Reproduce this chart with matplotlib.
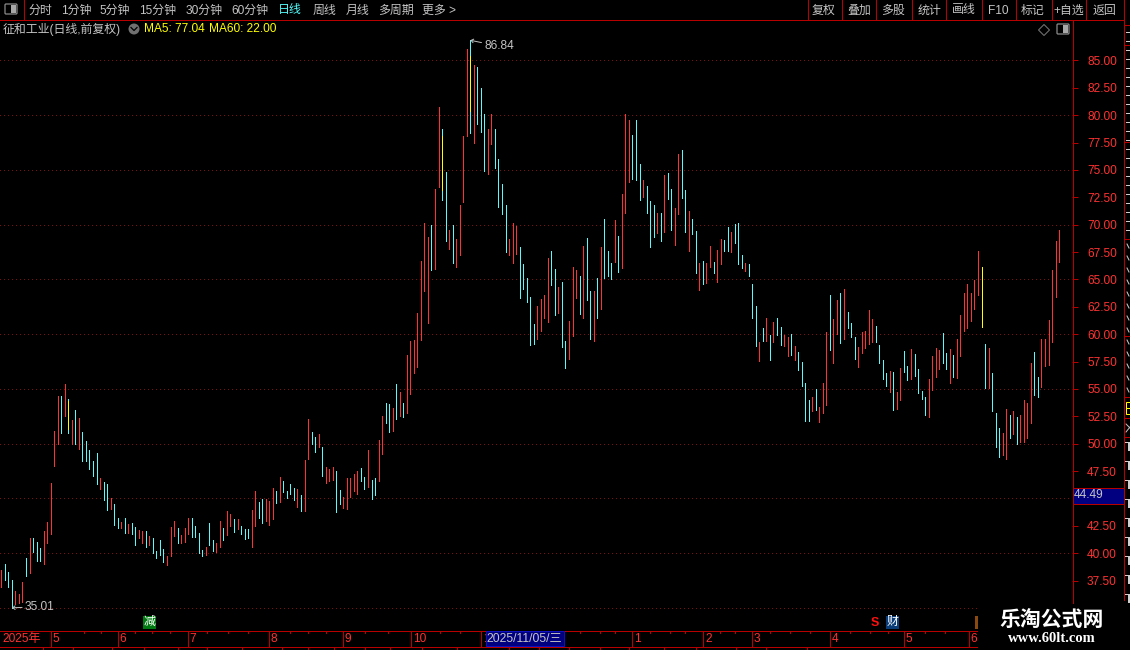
#!/usr/bin/env python3
# -*- coding: utf-8 -*-
import matplotlib
matplotlib.use('Agg')
import matplotlib.pyplot as plt
from matplotlib.patches import Rectangle, FancyBboxPatch, Circle, Polygon

plt.rcParams['font.family'] = ['Liberation Sans', 'Noto Sans CJK SC', 'DejaVu Sans']

#############################################################################
# daily bars
#############################################################################

highs = [
    38.48, 39.03, 38.30, 37.58, 36.58, 36.30, 37.39, 39.58, 41.39, 41.39,
    41.03, 40.48, 42.03, 42.85, 46.39, 51.12, 54.35, 54.35, 55.45, 54.10,
    52.15, 53.05, 52.30, 51.03, 50.21, 49.39, 48.39, 49.12, 46.85, 46.48,
    46.30, 45.03, 44.48, 43.21, 42.85, 43.21, 42.67, 42.76, 42.39, 42.12,
    42.03, 42.03, 41.58, 41.39, 40.21, 41.21, 40.39, 39.76, 42.39, 42.94,
    42.30, 41.67, 42.30, 43.21, 43.21, 42.48, 41.85, 40.30, 40.58, 42.76,
    41.21, 40.94, 42.94, 42.30, 43.85, 43.58, 43.12, 43.12, 42.48, 42.21,
    42.21, 43.94, 45.67, 44.67, 44.94, 44.94, 44.76, 45.94, 45.67,
    46.95, 46.59, 45.67, 46.31, 45.95, 45.85, 45.30, 48.51, 52.26, 51.07,
    50.61, 50.88, 49.70, 47.87, 47.68, 47.87, 47.50, 45.76, 45.12, 46.86,
    46.86, 47.23, 47.50, 47.77, 46.95, 49.42, 46.68, 46.86, 50.34, 52.53,
    53.72, 53.63, 53.26, 55.46, 54.73, 53.72, 58.11, 59.39, 59.48, 61.95,
    66.71, 70.18, 68.90, 70.00, 73.29, 80.70, 78.78, 74.85, 69.54, 70.00,
    68.72, 71.83, 78.14, 86.03, 86.84, 84.57, 84.39, 82.47, 80.15, 78.69,
    80.06, 78.78, 75.95, 73.75, 71.83, 68.72, 70.18, 69.91, 67.99, 66.43,
    65.15, 63.41, 60.95, 62.59, 63.23, 63.60, 66.98, 67.62, 65.98, 64.33,
    64.73, 59.33, 61.16, 66.10, 65.82, 65.27, 68.02, 68.75, 63.90, 63.90,
    65.09, 67.93, 70.49, 67.56, 66.46, 70.40, 68.93, 72.77, 80.09, 79.54,
    78.17, 79.54, 75.52, 74.05, 73.51, 72.13, 71.77, 71.04, 71.04, 74.51,
    74.70, 73.23, 71.49, 76.43, 76.80, 73.14, 71.22, 70.49, 69.39, 66.46,
    66.65, 66.46, 68.02, 66.55, 67.65, 68.66, 68.57, 69.76, 69.30, 70.03,
    70.12, 67.20, 66.46, 66.37, 64.54, 62.53, 59.24, 60.52, 61.43, 59.88,
    61.07, 61.43, 60.61, 59.88, 59.70, 59.97, 58.96, 58.41, 57.50,
    55.51, 53.96, 54.23, 54.96, 53.32, 55.51, 60.17, 63.55, 61.35, 63.09,
    63.73, 64.09, 61.99, 60.99, 59.71, 58.80, 60.17, 60.26, 62.18, 61.35,
    60.72, 58.98, 57.61, 56.42, 56.61, 56.51, 54.69, 56.88, 58.43, 57.06,
    58.61, 58.16, 56.79, 54.78, 54.23, 55.88, 57.98, 58.71, 58.52, 60.08,
    58.25, 58.61, 58.07, 59.53, 61.72, 63.73, 64.55, 63.73, 64.92, 67.56,
    66.10, 59.07, 58.71, 56.42, 52.77, 51.40, 50.94, 53.14, 52.59, 52.95,
    52.40, 52.59, 53.96, 53.68, 57.34, 58.34, 56.06, 59.53, 59.53, 61.26,
    65.83, 68.48, 69.48,
]

lows = [
    36.94, 37.58, 36.94, 35.01, 35.36, 35.45, 35.58, 37.94, 38.21, 40.12,
    39.30, 39.30, 39.03, 40.94, 41.76, 47.94, 49.94, 50.94, 52.48, 50.94,
    49.94, 49.94, 49.48, 48.39, 48.39, 47.67, 47.03, 46.30, 45.85, 44.85,
    43.94, 44.03, 42.58, 42.30, 42.30, 41.85, 41.85, 41.76, 40.76, 41.39,
    40.94, 40.58, 40.76, 40.03, 39.58, 39.85, 39.21, 38.94, 39.76, 41.58,
    40.94, 40.94, 41.03, 41.76, 41.48, 41.48, 40.03, 39.76, 39.85, 40.76,
    40.21, 40.12, 40.58, 41.21, 41.67, 42.48, 41.94, 42.21, 41.76, 41.30,
    41.39, 40.58, 42.48, 43.21, 42.76, 42.94, 42.58, 43.12, 44.58,
    44.66, 45.58, 45.03, 45.40, 44.85, 44.21, 43.84, 43.84, 48.60, 49.97,
    49.24, 49.70, 47.04, 46.40, 46.59, 46.68, 43.75, 44.48, 44.12, 44.02,
    45.12, 45.67, 45.40, 46.59, 45.85, 46.04, 44.94, 45.30, 46.59, 49.05,
    51.89, 51.07, 51.16, 52.26, 52.53, 52.44, 52.80, 54.54, 56.46, 57.01,
    59.48, 63.96, 61.04, 65.88, 65.98, 73.48, 72.29, 68.54, 67.80, 66.52,
    66.16, 67.26, 72.10, 78.14, 78.36, 77.50, 79.15, 78.50, 74.94, 74.66,
    77.41, 75.21, 71.65, 71.00, 67.53, 67.26, 66.52, 67.35, 63.32, 64.15,
    62.96, 59.02, 59.12, 59.57, 60.30, 61.49, 61.13, 64.51, 61.77, 61.95,
    58.87, 56.95, 57.77, 59.79, 63.26, 61.80, 61.43, 63.08, 59.60, 59.33,
    61.52, 62.26, 65.09, 65.27, 65.00, 66.55, 65.64, 66.00, 71.04, 73.87,
    74.15, 74.05, 72.23, 72.50, 71.04, 67.93, 68.84, 69.21, 68.48, 69.30,
    72.32, 69.48, 68.11, 70.95, 72.41, 69.30, 67.56, 69.12, 65.55, 64.00,
    64.54, 64.63, 66.10, 65.55, 64.73, 66.37, 67.56, 67.56, 67.47, 68.29,
    66.37, 66.01, 65.73, 65.27, 61.43, 58.96, 57.59, 59.33, 59.42, 57.68,
    59.24, 59.88, 59.05, 58.96, 58.05, 58.14, 57.68, 56.77, 55.30,
    52.04, 52.04, 52.95, 53.04, 51.95, 52.77, 53.50, 58.52, 57.34, 60.05,
    59.16, 59.53, 60.53, 59.71, 57.70, 56.97, 58.25, 58.71, 59.07, 59.25,
    59.25, 57.34, 55.88, 55.24, 54.69, 53.04, 53.14, 53.96, 56.51, 55.78,
    55.88, 56.15, 54.60, 54.05, 52.59, 52.40, 54.87, 56.06, 56.79, 57.34,
    56.79, 55.51, 56.06, 55.97, 57.98, 60.26, 60.53, 61.17, 62.27, 63.55,
    60.62, 55.05, 55.05, 52.95, 49.67, 48.75, 48.93, 48.57, 50.49, 50.85,
    49.94, 50.12, 50.12, 50.49, 51.86, 54.41, 54.23, 55.14, 57.06, 57.15,
    59.25, 63.36, 66.56,
]

# r = up day, c = down day
kinds = ("rcccrrrcrc" "ccrrrrrcrc" "rcrcccccrc" "crccrcrccr" "rcrccccrrr"
         "crrrccccrc" "crrcrrcrcc" "crrccrrrc"
         "rccccrcrrc" "crcrrrccrr" "rrrccrccrr" "ccrcrcrrrr" "rrrcrrccrc"
         "rrrrcrcccr" "rccccrrrcc" "cccrrrrccr"
         "ccrrrcrccr" "crcccrcrrr" "cccrcccrcr" "ccrrccrccr" "crrcrrccrc"
         "ccrcccrcrc" "rccrrcrcc"
         "ccrcrrrcrr" "crcccrrrrr" "ccccrcrrcc" "rccccrrrrc" "crcrrrrrrr"
         "ccrcccrrcr" "crrrrccrrr" "rrr")

# the yellow stretches on top of some bars
flag_days = [19, 125, 133, 278]
flag_high = [53.85, 78.14, 85.40, 66.10]
flag_low = [51.30, 73.20, 80.37, 60.62]

grid_levels = [85, 80, 75, 70, 65, 60, 55, 50, 45, 40, 35]
# 45 sits behind the current price box
tick_levels = [37.5, 40, 42.5, 47.5, 50, 52.5, 55, 57.5, 60, 62.5, 65, 67.5,
               70, 72.5, 75, 77.5, 80, 82.5, 85]

toolbar_left = ['分时', '1分钟', '5分钟', '15分钟', '30分钟', '60分钟', '日线', '周线', '月线', '多周期', '更多 >']
toolbar_left_x = [40, 76, 115, 158, 204, 250, 290, 324, 358, 396, 439]
toolbar_right = ['复权', '叠加', '多股', '统计', '画线', 'F10', '标记', '+自选', '返回']
toolbar_right_x = [824, 859, 893, 929, 964, 998, 1033, 1069, 1104]
toolbar_seps = [808, 842, 876, 912, 946, 982, 1016, 1052, 1086, 1123]

month_labels = ['5', '6', '7', '8', '9', '10', '1', '1', '2', '3', '4', '5', '6']
month_x = [50.5, 117.5, 187.5, 268.5, 342.5, 411, 481, 632, 703, 751.5, 829.5, 903.5, 968.5]
band_minor_x = [84, 101, 135, 152, 170, 207, 228, 248, 290, 308, 326, 365, 388, 440, 460,
                580, 600, 615, 650, 670, 685, 720, 735, 770, 790, 810, 850, 870, 888, 925, 945]
row_ticks_x = [43, 73, 112, 144, 178, 207, 242, 282, 308, 334, 365, 390, 422, 457,
               509, 539, 569, 600, 629, 664, 696, 736, 766, 807]

side_lines_y = [25, 45, 142, 239, 336, 397, 418, 437]

red = '#ff3232'
cyan = '#54fcfc'
frame = '#b80000'
gray = '#c4c4c4'
step = 3.526

fig = plt.figure(figsize=(11.3, 6.5), dpi=100, facecolor='black')


def to_fig(x, y):
    return x / 1130, 1 - y / 650


#############################################################################
# price panel
#############################################################################

left, bottom = to_fig(0, 630)
ax = fig.add_axes([left, bottom, 1072 / 1130, 610 / 650], facecolor='black')
ax.set_xlim(-1.3 / step, (1072 - 1.3) / step)
ax.set_ylim(85 - 569.6 / 10.95, 85 + 40.4 / 10.95)

dots = ax.hlines(grid_levels, ax.get_xlim()[0], ax.get_xlim()[1], color='#801010',
                 linewidth=0.72, linestyles=[(0, (1, 3))], zorder=1)
dots.set_antialiased(False)

days = range(len(highs))
for kind, colour in (('r', red), ('c', cyan)):
    picked = [i for i in days if kinds[i] == kind]
    bars = ax.vlines(picked, [lows[i] for i in picked], [highs[i] for i in picked],
                     color=colour, linewidth=0.72, zorder=2)
    bars.set_antialiased(False)
marks = ax.vlines(flag_days, flag_low, flag_high, color='#ffff00', linewidth=0.72, zorder=3)
marks.set_antialiased(False)

ax.annotate('86.84', xy=(133, 86.84), xytext=(14, -6), textcoords='offset pixels',
            color=gray, fontsize=8.6, va='center', ha='left',
            arrowprops=dict(arrowstyle='->,head_length=0.2,head_width=0.15', color=gray,
                            lw=0.7, shrinkA=0, shrinkB=0))
ax.annotate('35.01', xy=(3, 35.01), xytext=(13, 1), textcoords='offset pixels',
            color=gray, fontsize=8.6, va='center', ha='left',
            arrowprops=dict(arrowstyle='->,head_length=0.2,head_width=0.15', color=gray,
                            lw=0.7, shrinkA=0, shrinkB=0))

ax.yaxis.tick_right()
ax.set_yticks(tick_levels)
ax.set_yticklabels(['%.2f' % v for v in tick_levels])
ax.tick_params(axis='y', colors=red, length=4.3, width=0.72, pad=6.5, labelsize=8.6, color=frame)
ax.set_xticks([])
for name, spine in ax.spines.items():
    spine.set_visible(False)

#############################################################################
# everything round the panel, in pixel coordinates
#############################################################################

ui = fig.add_axes([0, 0, 1, 1], facecolor='none')
ui.set_xlim(0, 1130)
ui.set_ylim(650, 0)
ui.axis('off')

# watermark panel covers the corner
ui.add_patch(Rectangle((978, 604), 152, 46, facecolor='black', edgecolor='none', zorder=5))
ui.text(1052, 619, '乐淘公式网', color='white', fontsize=15, fontweight='bold',
        family=['Noto Sans CJK SC'], ha='center', va='center', zorder=6)
ui.text(1052, 639, 'www.60lt.com', color='white', fontsize=10.5, fontweight='bold',
        family=['Liberation Serif'], ha='center', va='center', zorder=6)

# frame lines
ui.plot([0, 1123], [19.5, 19.5], color=frame, lw=0.72)
ui.plot([1072.5, 1072.5], [19.5, 604], color=frame, lw=0.72)
ui.plot([1123.5, 1123.5], [0, 600], color=frame, lw=0.72)
ui.plot([0, 978], [630.5, 630.5], color=frame, lw=0.72)
ui.plot([0, 978], [646.5, 646.5], color=frame, lw=0.72)
ui.plot([23.5, 23.5], [0, 19.5], color=frame, lw=0.72)
for x in toolbar_seps[:-1]:
    ui.plot([x, x], [0, 19.5], color=frame, lw=0.72)

# toolbar
for x, label in zip(toolbar_left_x, toolbar_left):
    colour = '#54fcfc' if label == '日线' else gray
    ui.text(x, 13.5, label, color=colour, fontsize=8.6, ha='center', va='baseline')
for x, label in zip(toolbar_right_x, toolbar_right):
    ui.text(x, 13.5, label, color=gray, fontsize=8.6, ha='center', va='baseline')


def panel_icon(x, y):
    ui.add_patch(FancyBboxPatch((x, y), 10, 8, boxstyle='round,pad=1', facecolor='black',
                                edgecolor='#8a8a8a', lw=0.9))
    ui.add_patch(Rectangle((x + 5, y), 5, 8, facecolor='#a8a8a8', edgecolor='none'))


panel_icon(6, 5)
panel_icon(1058, 25)
ui.add_patch(Polygon([(1044, 24.5), (1049.5, 30), (1044, 35.5), (1038.5, 30)], closed=True,
                     facecolor='none', edgecolor='#6e6e6e', lw=0.8))

# title row
ui.text(3, 29, '征和工业(日线,前复权)', color=gray, fontsize=8.6, ha='left', va='center')
ui.add_patch(Circle((134, 29), 5.5, facecolor='#707070', edgecolor='none'))
ui.plot([131, 134, 137], [27.5, 30.5, 27.5], color='black', lw=0.9)
ui.text(144, 29, 'MA5: 77.04', color='#ffff00', fontsize=8.6, ha='left', va='center')
ui.text(209, 29, 'MA60: 22.00', color='#ffff00', fontsize=8.6, ha='left', va='center')

# current price box
ui.add_patch(Rectangle((1072.5, 487.5), 51, 16, facecolor='#000080', edgecolor=frame, lw=0.72, zorder=3))
ui.text(1074, 495.5, '44.49', color=gray, fontsize=8.6, ha='left', va='center', zorder=4)

# date band
ui.text(2, 639, '2025年', color=red, fontsize=8.6, ha='left', va='center')
for x, label in zip(month_x, month_labels):
    ui.plot([x, x], [630.5, 646.5], color=frame, lw=0.72)
    ui.text(x + 2, 639, label, color=red, fontsize=8.6, ha='left', va='center')
for x in band_minor_x:
    ui.plot([x, x], [630.5, 632.5], color=frame, lw=0.72)
for x in row_ticks_x:
    ui.plot([x, x], [646.5, 650], color=frame, lw=0.72)
ui.add_patch(Rectangle((485.5, 631), 78, 15, facecolor='#000080', edgecolor='#1010c0', lw=0.72, zorder=3))
ui.text(486.5, 638.5, '2025/11/05/三', color=gray, fontsize=8.8, ha='left', va='center', zorder=4)

# event tags
ui.add_patch(Rectangle((143, 616), 13, 13, facecolor='#007a10', edgecolor='none'))
ui.text(149.5, 622, '减', color='white', fontsize=8.6, ha='center', va='center')
ui.text(875, 622.5, 'S', color='#ff1010', fontsize=9, fontweight='bold', ha='center', va='center')
ui.add_patch(Rectangle((886, 616), 13, 13, facecolor='#0a3c78', edgecolor='none'))
ui.text(892.5, 622, '财', color='white', fontsize=8.6, ha='center', va='center')
ui.add_patch(Rectangle((975, 616), 3, 13, facecolor='#8a4a10', edgecolor='none'))

# cut-off neighbour column on the right edge
for y in side_lines_y:
    ui.plot([1123.5, 1130], [y, y], color=frame, lw=0.72)
for y in range(32, 238, 9):
    ui.plot([1126, 1130], [y, y], color='#d0d0d0', lw=0.72)
for y in range(244, 395, 12):
    ui.plot([1127, 1129], [y, y + 4], color='#d0d0d0', lw=0.72)
ui.add_patch(Rectangle((1126, 402), 4, 12, facecolor='none', edgecolor='#ffff00', lw=0.72))
ui.plot([1126, 1130], [408, 408], color='#ffff00', lw=0.72)
ui.plot([1126, 1130], [424, 428], color=gray, lw=0.72)
ui.plot([1126, 1130], [432, 427], color=gray, lw=0.72)
for y in range(442, 595, 19):
    ui.add_patch(Rectangle((1128, y), 2, 9, facecolor='#d0d0d0', edgecolor='none'))
    ui.plot([1125, 1128], [y, y], color='#d0d0d0', lw=0.72)

fig.savefig('out.png', dpi=100, facecolor='black')
